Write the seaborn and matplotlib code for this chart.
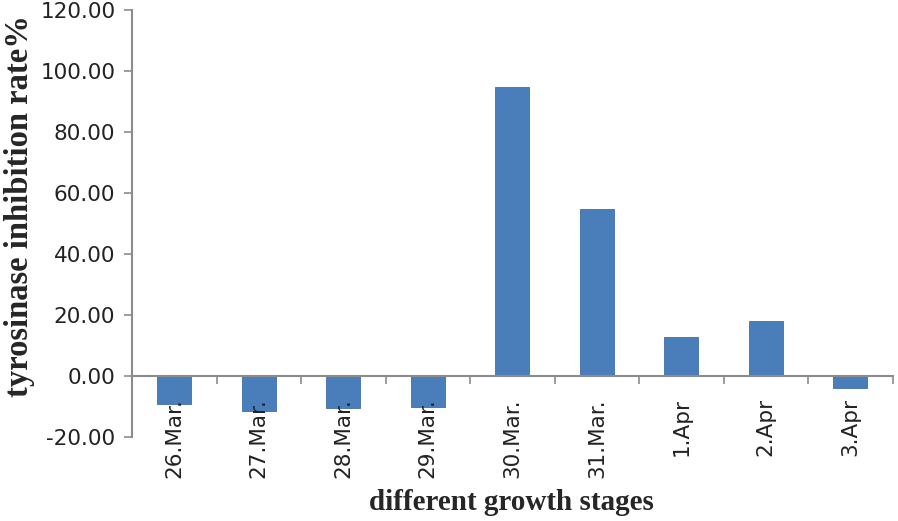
import matplotlib
matplotlib.use("Agg")
import matplotlib.pyplot as plt
import numpy as np
import pandas as pd
import seaborn as sns
from matplotlib.ticker import FixedLocator, FormatStrFormatter

stages = ["26.Mar.", "27.Mar.", "28.Mar.", "29.Mar.", "30.Mar.", "31.Mar.", "1.Apr", "2.Apr", "3.Apr"]
inhibition = [-9.2, -11.3, -10.6, -10.0, 94.7, 54.7, 12.8, 18.0, -4.0]
y_ticks = [-20, 0, 20, 40, 60, 80, 100, 120]

df = pd.DataFrame({"stage": stages, "rate": inhibition})

sns.set_style("white")
fig = plt.figure(figsize=(8.98, 5.21), dpi=100)
ax = fig.add_axes([0.147, 0.161, 0.847, 0.820])

sns.barplot(data=df, x="stage", y="rate", color="#4a7ebb", width=0.4,
            saturation=1, edgecolor="#3f6fa8", linewidth=0.6, ax=ax, zorder=1)

axis_grey = "#8c8c8c"
ax.set_ylim(-20, 120)
ax.set_xlim(-0.5, len(stages) - 0.5)
ax.yaxis.set_major_locator(FixedLocator(y_ticks))
ax.yaxis.set_major_formatter(FormatStrFormatter("%.2f"))

for side in ["top", "right"]:
    ax.spines[side].set_visible(False)
ax.spines["left"].set_color(axis_grey)
ax.spines["left"].set_linewidth(1.5)
ax.spines["bottom"].set_position(("data", 0))
ax.spines["bottom"].set_color(axis_grey)
ax.spines["bottom"].set_linewidth(1.5)
ax.set_axisbelow(False)
ax.xaxis.set_zorder(5)

# ticks between categories, labels centered
ax.xaxis.set_minor_locator(FixedLocator(np.arange(-0.5, len(stages), 1.0)))
ax.tick_params(axis="x", which="major", bottom=True, length=0, pad=16, labelsize=15.5,
               rotation=90, labelcolor="#222222")
ax.tick_params(axis="x", which="minor", bottom=True, length=6, width=1.2, color=axis_grey,
               direction="out")
ax.tick_params(axis="y", which="major", left=True, length=6, width=1.2, color=axis_grey,
               direction="out", labelsize=15.5, pad=6, labelcolor="#222222")
for lbl in ax.get_xticklabels():
    lbl.set_va("top")
    lbl.set_zorder(6)

ax.set_xlabel("")
ax.set_ylabel("tyrosinase inhibition rate%", family="Liberation Serif", fontweight="bold",
              fontsize=23.5)
ax.yaxis.set_label_coords(-0.128, 0.54)
fig.text(0.57, 0.035, "different growth stages", family="Liberation Serif", fontweight="bold",
         fontsize=21, ha="center", va="center")

fig.savefig("out.png", dpi=100)
